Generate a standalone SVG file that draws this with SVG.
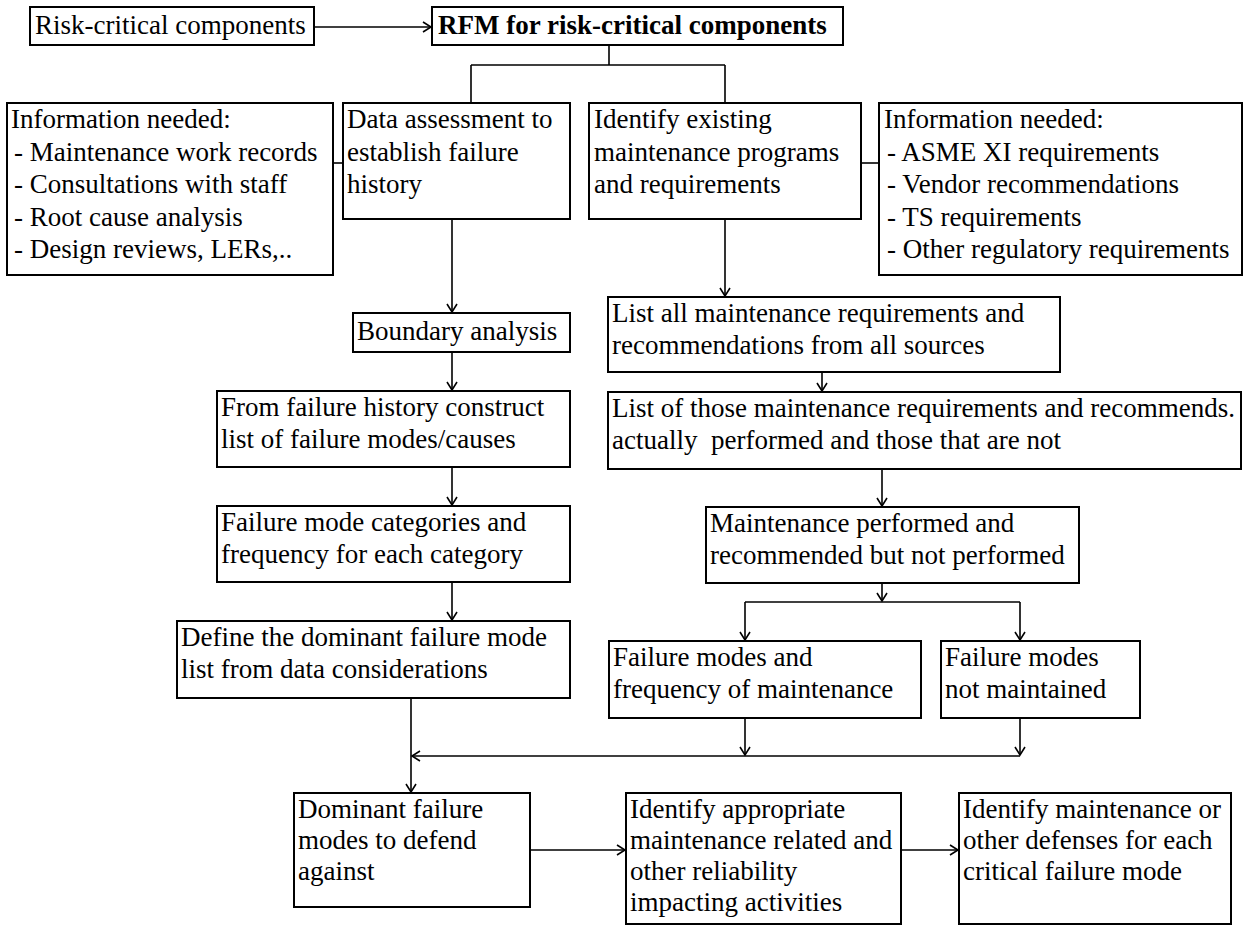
<svg xmlns="http://www.w3.org/2000/svg" width="1244" height="927" viewBox="0 0 1244 927">
<defs>
<marker id="ah" markerUnits="userSpaceOnUse" markerWidth="16" markerHeight="16" refX="0" refY="0" viewBox="-10 -8 12 16" orient="auto">
<path d="M-8,-5 L0,0 L-8,5" fill="none" stroke="#000" stroke-width="1.6"/>
</marker>
<style>
.box{fill:#fff;stroke:#000;stroke-width:2}
.t{font-family:"Liberation Serif","Times New Roman",serif;font-size:27px;fill:#000}
.b{font-weight:bold}
.c{fill:none;stroke:#000;stroke-width:1.6}
.a{marker-end:url(#ah)}
</style>
</defs>
<rect width="1244" height="927" fill="#fff"/>
<g id="connectors">
<path class="c a" d="M314,27 H431"/>
<path class="c" d="M609,45 V65 M471,65 H725 M471,65 V103 M725,65 V103"/>
<path class="c" d="M333,163 H343"/>
<path class="c" d="M861,163 H879"/>
<path class="c a" d="M452,219 V312"/>
<path class="c a" d="M452,352 V390"/>
<path class="c a" d="M452,467 V505"/>
<path class="c a" d="M452,582 V620"/>
<path class="c a" d="M725,219 V296"/>
<path class="c a" d="M822,372 V391"/>
<path class="c a" d="M882,469 V506"/>
<path class="c a" d="M882,583 V601"/>
<path class="c" d="M745,602 H1020"/>
<path class="c a" d="M745,602 V640"/>
<path class="c a" d="M1020,602 V640"/>
<path class="c a" d="M745,718 V755"/>
<path class="c a" d="M1020,718 V755"/>
<path class="c a" d="M1020,756 H412"/>
<path class="c a" d="M411,698 V792"/>
<path class="c a" d="M530,850 H625"/>
<path class="c a" d="M901,850 H958"/>
</g>
<g id="risk-critical">
<rect class="box" x="30" y="7" width="284" height="38"/>
<text class="t" x="35" y="34">Risk-critical components</text>
</g>
<g id="rfm">
<rect class="box" x="432" y="7" width="411" height="38"/>
<text class="t b" x="438" y="34">RFM for risk-critical components</text>
</g>
<g id="info-left">
<rect class="box" x="7" y="103" width="326" height="172"/>
<text class="t" x="11" y="128">Information needed:</text>
<text class="t" x="14" y="160.5">- Maintenance work records</text>
<text class="t" x="14" y="193">- Consultations with staff</text>
<text class="t" x="14" y="225.5">- Root cause analysis</text>
<text class="t" x="14" y="258">- Design reviews, LERs,..</text>
</g>
<g id="data-assessment">
<rect class="box" x="343" y="103" width="227" height="116"/>
<text class="t" x="347" y="128">Data assessment to</text>
<text class="t" x="347" y="160.5">establish failure</text>
<text class="t" x="347" y="193">history</text>
</g>
<g id="identify-existing">
<rect class="box" x="589" y="103" width="272" height="116"/>
<text class="t" x="594" y="128">Identify existing</text>
<text class="t" x="594" y="160.5">maintenance programs</text>
<text class="t" x="594" y="193">and requirements</text>
</g>
<g id="info-right">
<rect class="box" x="879" y="103" width="363" height="172"/>
<text class="t" x="884" y="128">Information needed:</text>
<text class="t" x="887" y="160.5">- ASME XI requirements</text>
<text class="t" x="887" y="193">- Vendor recommendations</text>
<text class="t" x="887" y="225.5">- TS requirements</text>
<text class="t" x="887" y="258">- Other regulatory requirements</text>
</g>
<g id="boundary">
<rect class="box" x="353" y="313" width="217" height="39"/>
<text class="t" x="357" y="340">Boundary analysis</text>
</g>
<g id="from-failure-history">
<rect class="box" x="217" y="391" width="353" height="76"/>
<text class="t" x="221" y="416">From failure history construct</text>
<text class="t" x="221" y="448">list of failure modes/causes</text>
</g>
<g id="failure-mode-categories">
<rect class="box" x="217" y="506" width="353" height="76"/>
<text class="t" x="221" y="531">Failure mode categories and</text>
<text class="t" x="221" y="563">frequency for each category</text>
</g>
<g id="define-dominant">
<rect class="box" x="177" y="621" width="393" height="77"/>
<text class="t" x="181" y="646">Define the dominant failure mode</text>
<text class="t" x="181" y="678">list from data considerations</text>
</g>
<g id="list-all">
<rect class="box" x="608" y="297" width="452" height="75"/>
<text class="t" x="612" y="322">List all maintenance requirements and</text>
<text class="t" x="612" y="354">recommendations from all sources</text>
</g>
<g id="list-of-those">
<rect class="box" x="608" y="392" width="633" height="77"/>
<text class="t" x="612" y="417">List of those maintenance requirements and recommends.</text>
<text class="t" x="612" y="449" xml:space="preserve">actually  performed and those that are not</text>
</g>
<g id="maintenance-performed">
<rect class="box" x="706" y="507" width="373" height="76"/>
<text class="t" x="710" y="532">Maintenance performed and</text>
<text class="t" x="710" y="564">recommended but not performed</text>
</g>
<g id="failure-modes-frequency">
<rect class="box" x="609" y="641" width="312" height="77"/>
<text class="t" x="613" y="666">Failure modes and</text>
<text class="t" x="613" y="698">frequency of maintenance</text>
</g>
<g id="failure-modes-not-maintained">
<rect class="box" x="941" y="641" width="199" height="77"/>
<text class="t" x="945" y="666">Failure modes</text>
<text class="t" x="945" y="698">not maintained</text>
</g>
<g id="dominant-failure-modes">
<rect class="box" x="294" y="793" width="236" height="114"/>
<text class="t" x="298" y="818">Dominant failure</text>
<text class="t" x="298" y="849">modes to defend</text>
<text class="t" x="298" y="880">against</text>
</g>
<g id="identify-appropriate">
<rect class="box" x="626" y="793" width="275" height="131"/>
<text class="t" x="630" y="818">Identify appropriate</text>
<text class="t" x="630" y="849">maintenance related and</text>
<text class="t" x="630" y="880">other reliability</text>
<text class="t" x="630" y="911">impacting activities</text>
</g>
<g id="identify-maintenance">
<rect class="box" x="959" y="793" width="272" height="131"/>
<text class="t" x="963" y="818">Identify maintenance or</text>
<text class="t" x="963" y="849">other defenses for each</text>
<text class="t" x="963" y="880">critical failure mode</text>
</g>
</svg>
